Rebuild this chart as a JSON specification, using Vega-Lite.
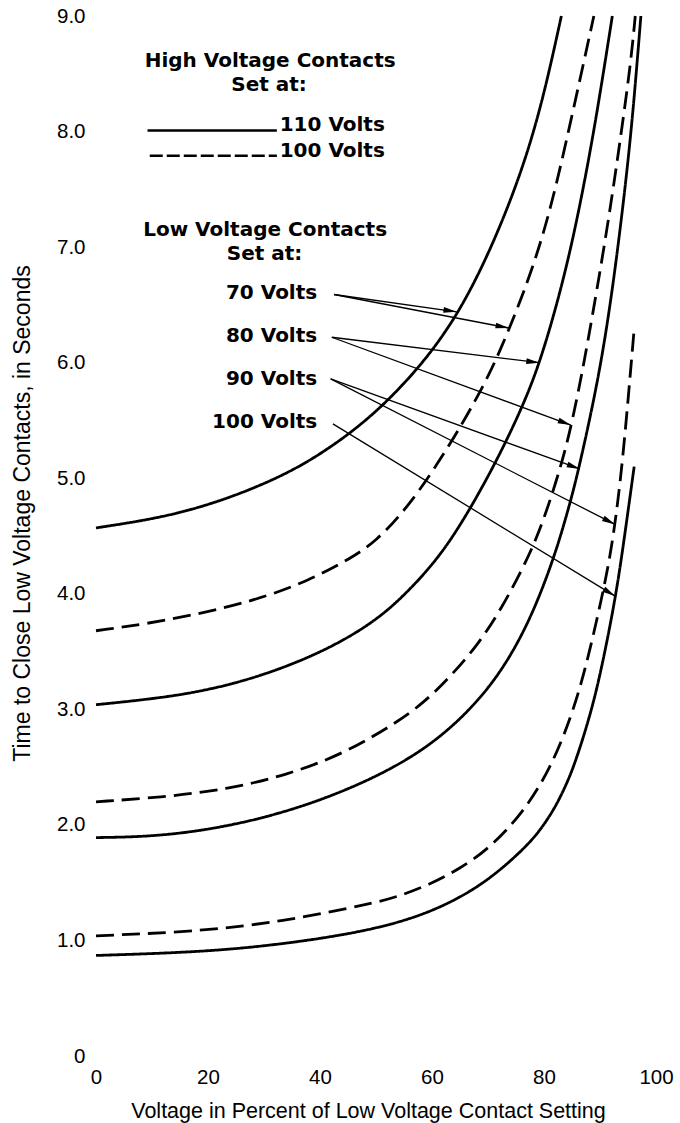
{
  "$schema": "https://vega.github.io/schema/vega-lite/v6.json",
  "width": 560,
  "height": 1040,
  "autosize": {"type": "none"},
  "padding": {"left": 96, "top": 16, "right": 24, "bottom": 67},
  "background": "white",
  "config": {
    "view": {"stroke": null},
    "axis": {
      "grid": false, "domain": false, "ticks": false,
      "labelColor": "black", "titleColor": "black",
      "labelFont": "Liberation Sans", "titleFont": "Liberation Sans",
      "labelFontSize": 20.5, "titleFontSize": 21.5, "titleFontWeight": "normal"
    }
  },
  "datasets": {
    "curves": [
      {"curve": "A", "high": "110", "x": 0, "t": 4.57},
      {"curve": "A", "high": "110", "x": 12.1, "t": 4.66},
      {"curve": "A", "high": "110", "x": 23.0, "t": 4.81},
      {"curve": "A", "high": "110", "x": 33.9, "t": 5.03},
      {"curve": "A", "high": "110", "x": 41.1, "t": 5.24},
      {"curve": "A", "high": "110", "x": 47.0, "t": 5.45},
      {"curve": "A", "high": "110", "x": 52.1, "t": 5.67},
      {"curve": "A", "high": "110", "x": 57.9, "t": 5.97},
      {"curve": "A", "high": "110", "x": 63.0, "t": 6.3},
      {"curve": "A", "high": "110", "x": 67.4, "t": 6.67},
      {"curve": "A", "high": "110", "x": 71.8, "t": 7.13},
      {"curve": "A", "high": "110", "x": 76.2, "t": 7.68},
      {"curve": "A", "high": "110", "x": 79.8, "t": 8.27},
      {"curve": "A", "high": "110", "x": 83.1, "t": 9.0},

      {"curve": "B", "high": "100", "x": 0, "t": 3.68},
      {"curve": "B", "high": "100", "x": 12.1, "t": 3.76},
      {"curve": "B", "high": "100", "x": 28.0, "t": 3.93},
      {"curve": "B", "high": "100", "x": 38.3, "t": 4.12},
      {"curve": "B", "high": "100", "x": 45.6, "t": 4.31},
      {"curve": "B", "high": "100", "x": 49.9, "t": 4.45},
      {"curve": "B", "high": "100", "x": 55.8, "t": 4.75},
      {"curve": "B", "high": "100", "x": 63.0, "t": 5.27},
      {"curve": "B", "high": "100", "x": 68.1, "t": 5.7},
      {"curve": "B", "high": "100", "x": 71.8, "t": 6.05},
      {"curve": "B", "high": "100", "x": 77.6, "t": 6.75},
      {"curve": "B", "high": "100", "x": 81.2, "t": 7.33},
      {"curve": "B", "high": "100", "x": 84.1, "t": 7.94},
      {"curve": "B", "high": "100", "x": 87.1, "t": 8.6},
      {"curve": "B", "high": "100", "x": 88.9, "t": 9.0},

      {"curve": "C", "high": "110", "x": 0, "t": 3.04},
      {"curve": "C", "high": "110", "x": 12.1, "t": 3.1},
      {"curve": "C", "high": "110", "x": 21.4, "t": 3.18},
      {"curve": "C", "high": "110", "x": 30.9, "t": 3.31},
      {"curve": "C", "high": "110", "x": 41.1, "t": 3.51},
      {"curve": "C", "high": "110", "x": 49.9, "t": 3.76},
      {"curve": "C", "high": "110", "x": 55.8, "t": 4.02},
      {"curve": "C", "high": "110", "x": 61.9, "t": 4.35},
      {"curve": "C", "high": "110", "x": 67.4, "t": 4.78},
      {"curve": "C", "high": "110", "x": 72.5, "t": 5.24},
      {"curve": "C", "high": "110", "x": 76.9, "t": 5.7},
      {"curve": "C", "high": "110", "x": 79.4, "t": 6.03},
      {"curve": "C", "high": "110", "x": 82.0, "t": 6.45},
      {"curve": "C", "high": "110", "x": 84.9, "t": 7.0},
      {"curve": "C", "high": "110", "x": 87.8, "t": 7.7},
      {"curve": "C", "high": "110", "x": 90.0, "t": 8.32},
      {"curve": "C", "high": "110", "x": 92.2, "t": 9.0},

      {"curve": "D", "high": "100", "x": 0, "t": 2.2},
      {"curve": "D", "high": "100", "x": 12.1, "t": 2.24},
      {"curve": "D", "high": "100", "x": 23.7, "t": 2.31},
      {"curve": "D", "high": "100", "x": 33.9, "t": 2.43},
      {"curve": "D", "high": "100", "x": 44.1, "t": 2.61},
      {"curve": "D", "high": "100", "x": 54.2, "t": 2.9},
      {"curve": "D", "high": "100", "x": 58.8, "t": 3.07},
      {"curve": "D", "high": "100", "x": 63.0, "t": 3.27},
      {"curve": "D", "high": "100", "x": 68.1, "t": 3.55},
      {"curve": "D", "high": "100", "x": 72.5, "t": 3.88},
      {"curve": "D", "high": "100", "x": 76.2, "t": 4.22},
      {"curve": "D", "high": "100", "x": 78.7, "t": 4.48},
      {"curve": "D", "high": "100", "x": 81.2, "t": 4.82},
      {"curve": "D", "high": "100", "x": 83.4, "t": 5.17},
      {"curve": "D", "high": "100", "x": 85.0, "t": 5.48},
      {"curve": "D", "high": "100", "x": 87.1, "t": 5.98},
      {"curve": "D", "high": "100", "x": 90.0, "t": 6.78},
      {"curve": "D", "high": "100", "x": 92.2, "t": 7.45},
      {"curve": "D", "high": "100", "x": 94.0, "t": 8.06},
      {"curve": "D", "high": "100", "x": 95.5, "t": 8.6},
      {"curve": "D", "high": "100", "x": 96.3, "t": 9.0},

      {"curve": "E", "high": "110", "x": 0, "t": 1.89},
      {"curve": "E", "high": "110", "x": 12.1, "t": 1.9},
      {"curve": "E", "high": "110", "x": 26.6, "t": 2.01},
      {"curve": "E", "high": "110", "x": 41.1, "t": 2.22},
      {"curve": "E", "high": "110", "x": 54.2, "t": 2.51},
      {"curve": "E", "high": "110", "x": 63.0, "t": 2.81},
      {"curve": "E", "high": "110", "x": 70.3, "t": 3.18},
      {"curve": "E", "high": "110", "x": 75.4, "t": 3.57},
      {"curve": "E", "high": "110", "x": 79.1, "t": 3.96},
      {"curve": "E", "high": "110", "x": 82.0, "t": 4.35},
      {"curve": "E", "high": "110", "x": 83.5, "t": 4.59},
      {"curve": "E", "high": "110", "x": 84.9, "t": 4.83},
      {"curve": "E", "high": "110", "x": 86.3, "t": 5.1},
      {"curve": "E", "high": "110", "x": 89.3, "t": 5.76},
      {"curve": "E", "high": "110", "x": 91.5, "t": 6.38},
      {"curve": "E", "high": "110", "x": 93.6, "t": 7.14},
      {"curve": "E", "high": "110", "x": 95.4, "t": 7.91},
      {"curve": "E", "high": "110", "x": 96.5, "t": 8.52},
      {"curve": "E", "high": "110", "x": 97.3, "t": 9.0},

      {"curve": "F", "high": "100", "x": 0, "t": 1.04},
      {"curve": "F", "high": "100", "x": 19.3, "t": 1.08},
      {"curve": "F", "high": "100", "x": 33.9, "t": 1.17},
      {"curve": "F", "high": "100", "x": 48.5, "t": 1.31},
      {"curve": "F", "high": "100", "x": 54.0, "t": 1.38},
      {"curve": "F", "high": "100", "x": 59.4, "t": 1.48},
      {"curve": "F", "high": "100", "x": 65.0, "t": 1.62},
      {"curve": "F", "high": "100", "x": 70.3, "t": 1.8},
      {"curve": "F", "high": "100", "x": 76.2, "t": 2.1},
      {"curve": "F", "high": "100", "x": 81.2, "t": 2.49},
      {"curve": "F", "high": "100", "x": 84.9, "t": 2.94},
      {"curve": "F", "high": "100", "x": 87.1, "t": 3.3},
      {"curve": "F", "high": "100", "x": 88.9, "t": 3.66},
      {"curve": "F", "high": "100", "x": 90.7, "t": 4.05},
      {"curve": "F", "high": "100", "x": 92.2, "t": 4.43},
      {"curve": "F", "high": "100", "x": 93.6, "t": 4.95},
      {"curve": "F", "high": "100", "x": 94.7, "t": 5.5},
      {"curve": "F", "high": "100", "x": 96.1, "t": 6.29},

      {"curve": "G", "high": "110", "x": 0, "t": 0.87},
      {"curve": "G", "high": "110", "x": 19.3, "t": 0.9},
      {"curve": "G", "high": "110", "x": 33.9, "t": 0.97},
      {"curve": "G", "high": "110", "x": 48.5, "t": 1.08},
      {"curve": "G", "high": "110", "x": 59.4, "t": 1.23},
      {"curve": "G", "high": "110", "x": 68.9, "t": 1.47},
      {"curve": "G", "high": "110", "x": 76.2, "t": 1.78},
      {"curve": "G", "high": "110", "x": 79.3, "t": 1.95},
      {"curve": "G", "high": "110", "x": 82.0, "t": 2.15},
      {"curve": "G", "high": "110", "x": 84.0, "t": 2.35},
      {"curve": "G", "high": "110", "x": 85.6, "t": 2.54},
      {"curve": "G", "high": "110", "x": 88.6, "t": 3.0},
      {"curve": "G", "high": "110", "x": 90.7, "t": 3.45},
      {"curve": "G", "high": "110", "x": 92.9, "t": 4.0},
      {"curve": "G", "high": "110", "x": 94.4, "t": 4.5},
      {"curve": "G", "high": "110", "x": 96.1, "t": 5.1}
    ],
    "arrows": [
      {"label": "70", "x1": 42.5, "y1": 6.59, "x2": 64.4, "y2": 6.44},
      {"label": "70", "x1": 42.5, "y1": 6.59, "x2": 73.7, "y2": 6.3},
      {"label": "80", "x1": 42.1, "y1": 6.22, "x2": 79.2, "y2": 6.0},
      {"label": "80", "x1": 42.1, "y1": 6.22, "x2": 84.8, "y2": 5.46},
      {"label": "90", "x1": 41.9, "y1": 5.86, "x2": 86.4, "y2": 5.08},
      {"label": "90", "x1": 41.9, "y1": 5.86, "x2": 92.7, "y2": 4.6},
      {"label": "100", "x1": 42.3, "y1": 5.47, "x2": 92.7, "y2": 3.98}
    ],
    "headers": [
      {"text": "High Voltage Contacts", "x": 31.1, "y": 8.61},
      {"text": "Set at:", "x": 30.9, "y": 8.4},
      {"text": "Low Voltage Contacts", "x": 30.2, "y": 7.15},
      {"text": "Set at:", "x": 30.1, "y": 6.94}
    ],
    "keyLabels": [
      {"text": "110 Volts", "x": 32.8, "y": 8.06},
      {"text": "100 Volts", "x": 32.8, "y": 7.83}
    ],
    "keyLines": [
      {"high": "110", "x": 9.2, "x2": 32.3, "y": 8.01},
      {"high": "100", "x": 9.6, "x2": 32.3, "y": 7.79}
    ],
    "voltLabels": [
      {"text": "70 Volts", "x": 39.5, "y": 6.6},
      {"text": "80 Volts", "x": 39.5, "y": 6.23},
      {"text": "90 Volts", "x": 39.5, "y": 5.86},
      {"text": "100 Volts", "x": 39.5, "y": 5.49}
    ]
  },
  "layer": [
    {
      "data": {"name": "curves"},
      "mark": {"type": "line", "color": "black", "strokeWidth": 2.8, "interpolate": "basis", "clip": false},
      "encoding": {
        "x": {
          "field": "x", "type": "quantitative",
          "scale": {"domain": [0, 100], "nice": false, "zero": false},
          "axis": {
            "values": [0, 20, 40, 60, 80, 100], "labelFlush": false,
            "labelPadding": 11, "title": "Voltage in Percent of Low Voltage Contact Setting",
            "titlePadding": 13, "titleX": 272
          }
        },
        "y": {
          "field": "t", "type": "quantitative",
          "scale": {"domain": [0, 9], "nice": false, "zero": false},
          "axis": {
            "values": [0, 1, 2, 3, 4, 5, 6, 7, 8, 9], "labelFlush": false,
            "labelExpr": "datum.value == 0 ? '0' : format(datum.value, '.1f')",
            "labelPadding": 11,
            "title": "Time to Close Low Voltage Contacts, in Seconds",
            "titleFontSize": 23,
            "titleX": -74, "titleY": 497, "titleBaseline": "middle", "titleAngle": -90
          }
        },
        "detail": {"field": "curve"},
        "strokeDash": {
          "field": "high", "type": "nominal",
          "scale": {"domain": ["110", "100"], "range": [[1, 0], [18, 8]]},
          "legend": null
        }
      }
    },
    {
      "data": {"name": "keyLines"},
      "transform": [{"filter": "datum.high == '110'"}],
      "mark": {"type": "rule", "color": "black", "strokeWidth": 2.5},
      "encoding": {
        "x": {"field": "x", "type": "quantitative"},
        "x2": {"field": "x2"},
        "y": {"field": "y", "type": "quantitative"}
      }
    },
    {
      "data": {"name": "keyLines"},
      "transform": [{"filter": "datum.high == '100'"}],
      "mark": {"type": "rule", "color": "black", "strokeWidth": 2.5, "strokeDash": [13, 4]},
      "encoding": {
        "x": {"field": "x", "type": "quantitative"},
        "x2": {"field": "x2"},
        "y": {"field": "y", "type": "quantitative"}
      }
    },
    {
      "data": {"name": "arrows"},
      "mark": {"type": "rule", "color": "black", "strokeWidth": 1.3},
      "encoding": {
        "x": {"field": "x1", "type": "quantitative"},
        "y": {"field": "y1", "type": "quantitative"},
        "x2": {"field": "x2"},
        "y2": {"field": "y2"}
      }
    },
    {
      "data": {"name": "arrows"},
      "transform": [
        {"calculate": "atan2((datum.y1 - datum.y2) * 115.56, (datum.x2 - datum.x1) * 5.6) * 180 / PI", "as": "ang"}
      ],
      "mark": {"type": "point", "shape": "M0,0L-1,-0.22L-1,0.22Z", "filled": true, "color": "black", "opacity": 1, "size": 700},
      "encoding": {
        "x": {"field": "x2", "type": "quantitative"},
        "y": {"field": "y2", "type": "quantitative"},
        "angle": {"field": "ang", "type": "quantitative", "scale": null}
      }
    },
    {
      "data": {"name": "headers"},
      "mark": {"type": "text", "font": "DejaVu Sans", "fontWeight": "bold", "fontSize": 20, "align": "center", "baseline": "middle", "color": "black"},
      "encoding": {
        "x": {"field": "x", "type": "quantitative"},
        "y": {"field": "y", "type": "quantitative"},
        "text": {"field": "text"}
      }
    },
    {
      "data": {"name": "keyLabels"},
      "mark": {"type": "text", "font": "DejaVu Sans", "fontWeight": "bold", "fontSize": 20, "align": "left", "baseline": "middle", "color": "black"},
      "encoding": {
        "x": {"field": "x", "type": "quantitative"},
        "y": {"field": "y", "type": "quantitative"},
        "text": {"field": "text"}
      }
    },
    {
      "data": {"name": "voltLabels"},
      "mark": {"type": "text", "font": "DejaVu Sans", "fontWeight": "bold", "fontSize": 20, "align": "right", "baseline": "middle", "color": "black"},
      "encoding": {
        "x": {"field": "x", "type": "quantitative"},
        "y": {"field": "y", "type": "quantitative"},
        "text": {"field": "text"}
      }
    }
  ]
}
